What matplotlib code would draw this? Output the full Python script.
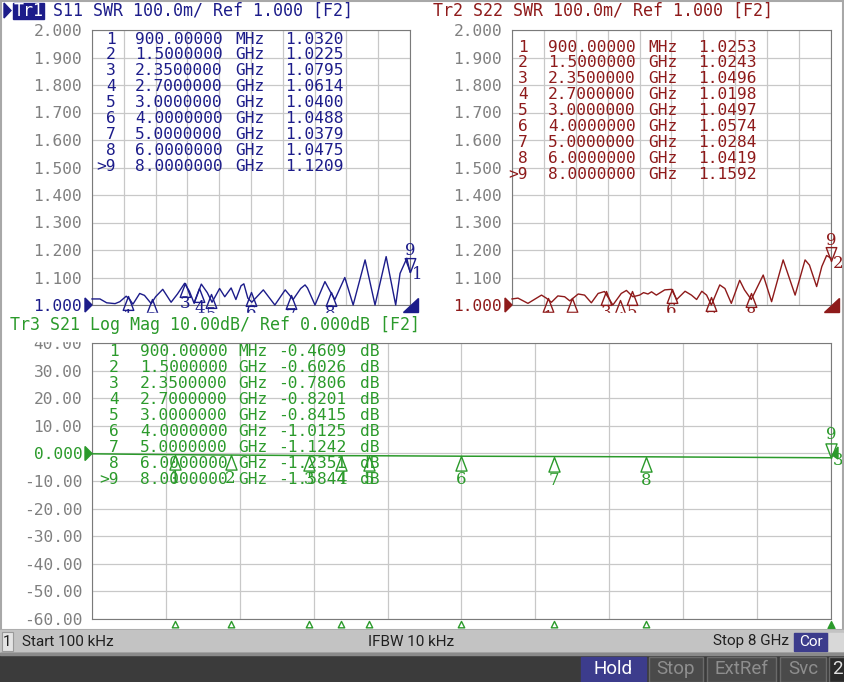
import numpy as np
import matplotlib.pyplot as plt
from matplotlib.path import Path
from matplotlib.patches import Rectangle, Polygon

W, H = 845, 682

# marker table data
mk_freq = [0.9, 1.5, 2.35, 2.7, 3.0, 4.0, 5.0, 6.0, 8.0]
mk_freq_txt = ["900.00000", "1.5000000", "2.3500000", "2.7000000", "3.0000000",
               "4.0000000", "5.0000000", "6.0000000", "8.0000000"]
mk_unit = ["MHz", "GHz", "GHz", "GHz", "GHz", "GHz", "GHz", "GHz", "GHz"]
s11_mk = [1.0320, 1.0225, 1.0795, 1.0614, 1.0400, 1.0488, 1.0379, 1.0475, 1.1209]
s22_mk = [1.0253, 1.0243, 1.0496, 1.0198, 1.0497, 1.0574, 1.0284, 1.0419, 1.1592]
s21_mk = [-0.4609, -0.6026, -0.7806, -0.8201, -0.8415, -1.0125, -1.1242, -1.2351, -1.5844]

# traces (GHz, value)
s11_f = [0.0, 0.2, 0.37, 0.58, 0.7, 0.86, 0.95, 1.03, 1.2, 1.32, 1.49, 1.6, 1.78, 1.99,
         2.15, 2.33, 2.45, 2.57, 2.75, 2.9, 3.02, 3.21, 3.34, 3.5, 3.62, 3.75, 3.82, 3.92,
         4.02, 4.31, 4.6, 4.86, 5.06, 5.25, 5.36, 5.42, 5.61, 5.86, 5.99, 6.11, 6.36, 6.57,
         6.87, 7.12, 7.4, 7.64, 7.75, 7.92, 8.0]
s11_v = [1.022, 1.022, 1.008, 1.005, 1.012, 1.032, 1.02, 1.003, 1.042, 1.035, 1.005, 1.03,
         1.057, 1.01, 1.04, 1.079, 1.05, 1.006, 1.076, 1.045, 1.01, 1.06, 1.03, 1.062, 1.02,
         1.07, 1.077, 1.025, 1.01, 1.055, 1.0, 1.055, 1.02, 1.06, 1.073, 1.062, 1.0, 1.085,
         1.05, 1.02, 1.10, 1.0, 1.164, 1.0, 1.176, 1.0, 1.115, 1.17, 1.12]
s22_f = [0.0, 0.15, 0.4, 0.74, 0.86, 0.99, 1.15, 1.32, 1.45, 1.66, 1.82, 1.99, 2.16, 2.32,
         2.53, 2.74, 2.87, 3.03, 3.2, 3.3, 3.41, 3.5, 3.62, 3.83, 4.0, 4.13, 4.34, 4.5, 4.63,
         4.76, 4.88, 5.0, 5.21, 5.34, 5.5, 5.71, 5.83, 6.0, 6.3, 6.51, 6.8, 7.1, 7.35, 7.46,
         7.64, 7.77, 7.89, 8.0]
s22_v = [1.022, 1.025, 1.006, 1.036, 1.025, 1.01, 1.033, 1.03, 1.015, 1.04, 1.036, 1.008,
         1.042, 1.049, 1.0, 1.042, 1.053, 1.03, 1.036, 1.045, 1.04, 1.048, 1.036, 1.055,
         1.057, 1.02, 1.05, 1.036, 1.02, 1.05, 1.036, 1.0, 1.073, 1.06, 1.006, 1.09, 1.055,
         1.02, 1.109, 1.012, 1.164, 1.036, 1.164, 1.145, 1.067, 1.14, 1.18, 1.17]
s21_f = [0.0, 0.9, 1.5, 2.35, 2.7, 3.0, 4.0, 5.0, 6.0, 8.0]
s21_v = [-0.15, -0.4609, -0.6026, -0.7806, -0.8201, -0.8415, -1.0125, -1.1242, -1.2351, -1.5844]

swr_ticks = [1.0, 1.1, 1.2, 1.3, 1.4, 1.5, 1.6, 1.7, 1.8, 1.9, 2.0]
db_ticks = [-60, -50, -40, -30, -20, -10, 0, 10, 20, 30, 40]
db_labels = ["-60.00", "-50.00", "-40.00", "-30.00", "-20.00", "-10.00", "0.000",
             "10.00", "20.00", "30.00", "40.00"]

BLUE = "#1c1c8a"
RED = "#8e1a1a"
GREEN = "#2b9a2b"
GRAY = "#808080"
MONO = "DejaVu Sans Mono"
SERIF = "DejaVu Serif"
SB = "Roboto"

fig = plt.figure(figsize=(W / 100, H / 100), dpi=100)
fig.patch.set_facecolor("white")


def rect(x0, y0, x1, y1):
    return [x0 / W, 1 - y1 / H, (x1 - x0) / W, (y1 - y0) / H]


up_tri = Path([(0, 0), (-0.38, -1), (0.38, -1), (0, 0)],
              [Path.MOVETO, Path.LINETO, Path.LINETO, Path.CLOSEPOLY])
down_tri = Path([(0, 0), (-0.38, 1), (0.38, 1), (0, 0)],
                [Path.MOVETO, Path.LINETO, Path.LINETO, Path.CLOSEPOLY])
edge_tri = Path([(0, -0.3), (-0.5, -1.3), (0.5, -1.3), (0, -0.3)],
                [Path.MOVETO, Path.LINETO, Path.LINETO, Path.CLOSEPOLY])


def setup(ax, ticks, labels, ref, color):
    ax.set_xlim(0, 8)
    ax.set_ylim(ticks[0], ticks[-1])
    ax.set_xticks(np.arange(11) * 0.8)
    ax.set_xticklabels([])
    ax.set_yticks(ticks)
    ax.set_yticklabels(labels, family=MONO, fontsize=11.7, color=GRAY)
    ax.tick_params(length=0, pad=7)
    ax.grid(color="#c8c8c8", lw=0.9)
    ax.set_axisbelow(True)
    for s in ax.spines.values():
        s.set_color("#7a7a7a")
    ax.get_yticklabels()[labels.index(ref)].set_color(color)


def markers(ax, f, v, color, ms, drop, lab_side):
    for i in range(8):
        ax.plot(f[i], v[i], marker=up_tri, ms=ms, mfc="none", mec=color, mew=1,
                clip_on=False, zorder=4)
        ax.annotate(str(i + 1), (f[i], v[i]), xytext=(0, -drop), textcoords="offset points",
                    ha="center", va="center", color=color, family=SERIF, fontsize=12,
                    annotation_clip=False)
    ax.plot(f[8], v[8], marker=down_tri, ms=ms, mfc="none", mec=color, mew=1,
            clip_on=False, zorder=4)
    ax.annotate("9", (f[8], v[8]), xytext=(0, drop), textcoords="offset points",
                ha="center", va="center", color=color, family=SERIF, fontsize=12,
                annotation_clip=False)
    ax.annotate(lab_side, (f[8], v[8]), xytext=(1.5, -2), textcoords="offset points",
                ha="left", va="center", color=color, family=SERIF, fontsize=12,
                annotation_clip=False)


swr_labels = ["%.3f" % t for t in swr_ticks]

ax1 = fig.add_axes(rect(92, 30, 410, 305))
setup(ax1, swr_ticks, swr_labels, "1.000", BLUE)
ax1.plot(s11_f, s11_v, color=BLUE, lw=1, clip_on=False, zorder=3)
markers(ax1, mk_freq, s11_mk, BLUE, 20, 15, "1")

ax2 = fig.add_axes(rect(512, 30, 831, 305))
setup(ax2, swr_ticks, swr_labels, "1.000", RED)
ax2.plot(s22_f, s22_v, color=RED, lw=1, clip_on=False, zorder=3)
markers(ax2, mk_freq, s22_mk, RED, 20, 15, "2")

ax3 = fig.add_axes(rect(92, 343, 831, 619))
setup(ax3, db_ticks, db_labels, "0.000", GREEN)
ax3.plot(s21_f, s21_v, color=GREEN, lw=1.1, clip_on=False, zorder=3)
markers(ax3, mk_freq, s21_mk, GREEN, 21, 17, "3")
ax3.plot(mk_freq[:8], [-60] * 8, ls="none", marker=edge_tri, ms=12, mfc="none", mec=GREEN,
         mew=1, clip_on=False)
ax3.plot(mk_freq[8], -60, marker=edge_tri, ms=13, mfc=GREEN, mec=GREEN, clip_on=False)

# overlay for annotations, tables and status bars
ov = fig.add_axes([0, 0, 1, 1], zorder=10)
ov.set_xlim(0, W)
ov.set_ylim(H, 0)
ov.axis("off")
ov.patch.set_alpha(0)


def txt(x, y, s, color, size=11.7, ha="left", family=MONO, **kw):
    ov.text(x, y, s, color=color, fontsize=size, ha=ha, va="center", family=family, **kw)


# clip band between top and bottom channels
ov.add_patch(Rectangle((3, 313), 838, 28, color="white", zorder=1))

# outer frame
ov.add_patch(Rectangle((1, 0.5), 842, 629, fill=False, ec="#a8a8a8", lw=1.5))

# titles
ov.add_patch(Polygon([(4, 3), (11, 10.5), (4, 18)], color=BLUE))
ov.add_patch(Rectangle((13, 3), 31, 16, color=BLUE))
txt(14, 11, "Tr1", "white", 12)
txt(53, 11, "S11 SWR 100.0m/ Ref 1.000 [F2]", BLUE, 12)
txt(433, 11, "Tr2 S22 SWR 100.0m/ Ref 1.000 [F2]", RED, 12)
txt(10, 325, "Tr3 S21 Log Mag 10.00dB/ Ref 0.000dB [F2]", GREEN, 12, zorder=2)

# marker tables
tables = [
    (s11_mk, BLUE, 39, 116, 135, 235, 285, None),
    (s22_mk, RED, 47, 528, 548, 648, 698, None),
    (s21_mk, GREEN, 352, 119, 140, 238, 278, 360),
]
for vals, col, y0, xn, xf, xu, xv, xdb in tables:
    for i in range(9):
        y = y0 + i * 15.9
        txt(xn, y, (">" if i == 8 else "") + str(i + 1), col, ha="right")
        txt(xf, y, mk_freq_txt[i], col)
        txt(xu, y, mk_unit[i], col)
        txt(xv, y, "%.4f" % vals[i], col)
        if xdb:
            txt(xdb, y, "dB", col)

# reference arrows
for x, y, col in [(92, 305, BLUE), (512, 305, RED), (92, 453.5, GREEN)]:
    ov.add_patch(Polygon([(x - 7, y - 7), (x, y), (x - 7, y + 7)], color=col))
for x, col in [(410, BLUE), (831, RED)]:
    ov.add_patch(Polygon([(x - 7, 312), (x + 8, 312), (x + 8, 298)], color=col))
ov.add_patch(Polygon([(838, 447), (832, 455), (838, 459)], color=GREEN))

# status bar
ov.add_patch(Rectangle((0, 630), W, 23, color="#c3c3c3"))
ov.add_patch(Rectangle((2, 632), 11, 19, fc="#e4e4e4", ec="#9a9a9a", lw=0.8))
txt(7.5, 641.5, "1", "#202020", 11, ha="center", family=SB)
txt(22, 641.5, "Start 100 kHz", "#202020", 11, family=SB)
txt(368, 641.5, "IFBW 10 kHz", "#202020", 11, family=SB)
txt(713, 641.5, "Stop 8 GHz", "#202020", 11, family=SB)
ov.add_patch(Rectangle((794, 633), 33, 18, color="#3c3c8c"))
txt(810.5, 641.5, "Cor", "white", 11, ha="center", family=SB)
ov.add_patch(Rectangle((829, 633), 14, 18, color="#d8d8d8"))

# bottom bar
ov.add_patch(Rectangle((0, 653), W, 29, color="#3b3b3b"))
ov.add_patch(Rectangle((0, 653), W, 2, color="#8a8a8a"))
ov.add_patch(Rectangle((581, 657), 65, 25, color="#3c3c8c"))
txt(613.5, 669.5, "Hold", "white", 13.5, ha="center", family=SB)
for x0, x1, s in [(649, 703, "Stop"), (707, 776, "ExtRef"), (780, 826, "Svc")]:
    ov.add_patch(Rectangle((x0, 657), x1 - x0, 25, fc="#4a4a4a", ec="#6a6a6a", lw=1))
    txt((x0 + x1) / 2, 669.5, s, "#8e8e8e", 13.5, ha="center", family=SB)
ov.add_patch(Rectangle((829, 657), 16, 25, fc="#2a2a2a", ec="#6a6a6a", lw=1))
txt(832, 669.5, "2", "#e0e0e0", 13.5, family=SB)

fig.savefig("out.png", dpi=100)
